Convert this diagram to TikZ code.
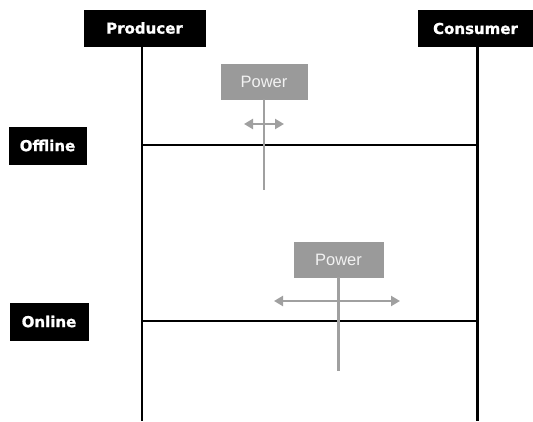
\documentclass[tikz,border=0pt]{standalone}
\usepackage{fontspec}
\setmainfont{DejaVu Sans}
\newfontfamily\heavyfont[FakeBold=1.2]{DejaVu Sans Bold}
\newfontfamily\powerfont{Liberation Sans}
\usetikzlibrary{arrows.meta}
\definecolor{pgray}{HTML}{9A9A9A}
\definecolor{agray}{HTML}{A0A0A0}
\begin{document}
\begin{tikzpicture}[x=1pt,y=-1pt,
  blackbox/.style={draw=black,fill=black,text=white,inner sep=0pt,font=\heavyfont\fontsize{15}{15}\selectfont},
  powerbox/.style={draw=pgray,fill=pgray,text=white!90!gray,inner sep=0pt,font=\powerfont\fontsize{16.5}{16.5}\selectfont},
  lifeline/.style={black,line width=2.6pt},
  phase/.style={black,line width=2.6pt},
  gline/.style={agray,line width=2.4pt},
  garrow/.style={agray,line width=2.6pt,{Triangle[length=9pt,width=10pt]}-{Triangle[length=9pt,width=10pt]}}]
\useasboundingbox (0,0) rectangle (533,421);
% actors
\node[blackbox,minimum width=121pt,minimum height=36pt] (prod) at (144.5,28) {Producer};
\node[blackbox,minimum width=115pt,minimum height=36pt] (cons) at (475.5,28.5) {Consumer};
\coordinate (pend) at (142,421);
\coordinate (cend) at (477.5,421);
\draw[lifeline] (prod.south -| pend) -- (pend);
\draw[lifeline] (cons.south -| cend) -- (cend);
% phases
\node[blackbox,minimum width=77pt,minimum height=37pt] (off) at (47.5,145.5) {Offline};
\node[blackbox,minimum width=78pt,minimum height=37pt] (on) at (49,321.5) {Online};
\coordinate (offL) at (142,145);
\coordinate (offR) at (477.5,145);
\coordinate (onL) at (142,321);
\coordinate (onR) at (477.5,321);
\draw[phase] (offL) -- (offR);
\draw[phase] (onL) -- (onR);
% power 1
\node[powerbox,minimum width=86pt,minimum height=35pt] (p1) at (264,81.5) {Power};
\coordinate (p1end) at (264,190);
\draw[gline] (p1.south) -- (p1end);
\coordinate (a1l) at (244,124);
\coordinate (a1r) at (284,124);
\draw[garrow] (a1l) -- (a1r);
% power 2
\node[powerbox,minimum width=89pt,minimum height=35pt] (p2) at (338.5,259.5) {Power};
\coordinate (p2end) at (338.5,371);
\draw[gline] (p2.south) -- (p2end);
\coordinate (a2l) at (274,301);
\coordinate (a2r) at (400,301);
\draw[garrow] (a2l) -- (a2r);
\end{tikzpicture}
\end{document}
